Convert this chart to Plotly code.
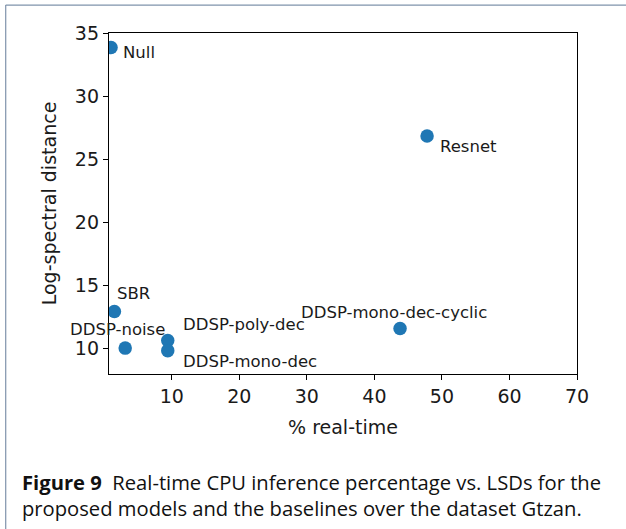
import plotly.graph_objects as go

# Real-time CPU inference percentage vs. log-spectral distance per model
models = ["Null", "Resnet", "DDSP-mono-dec-cyclic", "DDSP-poly-dec",
          "DDSP-mono-dec", "DDSP-noise", "SBR"]
real_time_pct = [1.0, 47.8, 43.8, 9.4, 9.4, 3.1, 1.5]
lsd = [33.85, 26.85, 11.6, 10.65, 9.85, 10.05, 12.95]

x_ticks = [10, 20, 30, 40, 50, 60, 70]
y_ticks = [10, 15, 20, 25, 30, 35]

# label placement: (xanchor, xshift, yshift) in pixels around each point
label_pos = {
    "Null": ("left", 10, -5),
    "Resnet": ("left", 11, -11),
    "DDSP-mono-dec-cyclic": ("center", -6, 16),
    "DDSP-poly-dec": ("left", 13, 16),
    "DDSP-mono-dec": ("left", 13, -11),
    "DDSP-noise": ("center", -8, 19),
    "SBR": ("left", 1, 18),
}

BLUE = "#1f77b4"
FONT = "DejaVu Sans"

fig = go.Figure()
fig.add_trace(go.Scatter(
    x=real_time_pct, y=lsd, mode="markers",
    marker=dict(color=BLUE, size=13.5, line=dict(width=0)),
    cliponaxis=True, showlegend=False, hoverinfo="skip",
))

for name, xv, yv in zip(models, real_time_pct, lsd):
    anchor, dx, dy = label_pos[name]
    fig.add_annotation(
        x=xv, y=yv, xref="x", yref="y", text=name, showarrow=False,
        xanchor=anchor, yanchor="middle", xshift=dx, yshift=dy,
        font=dict(family=FONT, size=16.5, color="#1a1a1a"),
    )

axis_common = dict(
    showgrid=False, zeroline=False, showline=True, linecolor="black",
    linewidth=1.4, mirror=True, ticks="outside", ticklen=5, tickwidth=1.2,
    tickcolor="black", tickfont=dict(family=FONT, size=19, color="#1a1a1a"),
)

fig.update_xaxes(
    range=[0.7, 70], tickvals=x_ticks,
    title=dict(text="% real-time", font=dict(family=FONT, size=19, color="#1a1a1a"),
               standoff=14),
    **axis_common,
)
fig.update_yaxes(
    range=[8, 35], tickvals=y_ticks,
    title=dict(text="Log-spectral distance",
               font=dict(family=FONT, size=19, color="#1a1a1a"), standoff=13),
    **axis_common,
)

# figure caption
caption = ("<b>Figure 9</b>  Real-time CPU inference percentage vs. LSDs for the<br>"
           "proposed models and the baselines over the dataset Gtzan.")
fig.add_annotation(
    text=caption, xref="paper", yref="paper", x=-0.19, y=-0.27,
    xanchor="left", yanchor="top", align="left", showarrow=False,
    font=dict(family="Open Sans", size=20.2, color="#111111"),
)

# page frame on the left and top edges
fig.add_shape(type="line", xref="paper", yref="paper",
              x0=-0.2207, x1=-0.2207, y0=1.082, y1=-0.6,
              line=dict(color="#7f93ab", width=1.2))
fig.add_shape(type="line", xref="paper", yref="paper",
              x0=-0.2207, x1=1.2, y0=1.082, y1=1.082,
              line=dict(color="#7f93ab", width=1.2))

fig.update_layout(
    width=626, height=529,
    margin=dict(l=109, r=49, t=33, b=155),
    paper_bgcolor="white", plot_bgcolor="white",
)

fig.write_html("out.html")
